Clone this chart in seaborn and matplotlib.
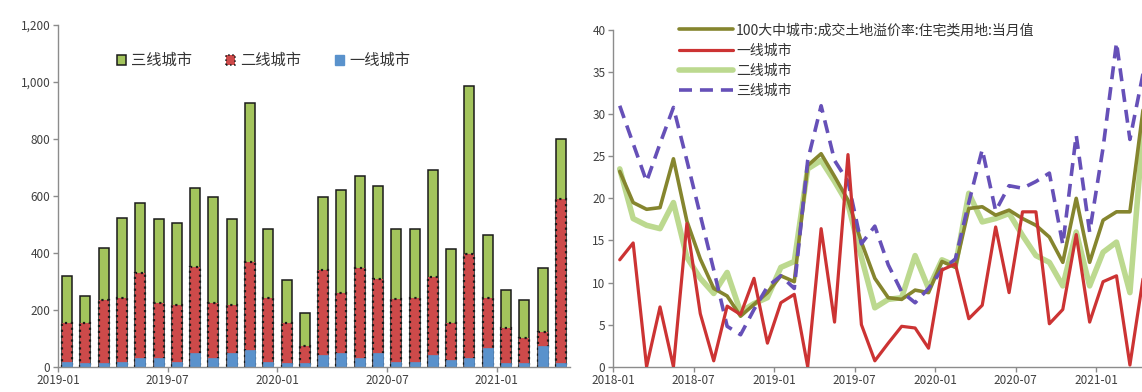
import numpy as np
import pandas as pd
import matplotlib
matplotlib.use("Agg")
import matplotlib.pyplot as plt
import seaborn as sns
from matplotlib.patches import Patch
from matplotlib.lines import Line2D
from matplotlib.ticker import FuncFormatter

# ---------------- data: left chart (stacked bars) ----------------
bar_months = ["2019-01", "2019-02", "2019-03", "2019-04", "2019-05", "2019-06", "2019-07",
              "2019-08", "2019-09", "2019-10", "2019-11", "2019-12", "2020-01", "2020-02",
              "2020-03", "2020-04", "2020-05", "2020-06", "2020-07", "2020-08", "2020-09",
              "2020-10", "2020-11", "2020-12", "2021-01", "2021-02", "2021-03", "2021-04"]
tier1_cnt = [18, 12, 12, 18, 29, 29, 18, 47, 29, 47, 59, 18, 12, 12,
             41, 47, 29, 47, 18, 18, 41, 24, 29, 65, 12, 12, 71, 12]
tier2_cnt = [135, 141, 223, 223, 300, 194, 200, 303, 194, 171, 308, 223, 141, 59,
             300, 212, 316, 261, 220, 223, 274, 131, 365, 176, 123, 88, 52, 578]
tier3_cnt = [167, 96, 183, 282, 245, 294, 288, 277, 374, 299, 558, 244, 150, 117,
             256, 360, 324, 326, 247, 244, 377, 259, 591, 220, 133, 135, 224, 210]
bar_tick_labels = ["2019-01", "2019-07", "2020-01", "2020-07", "2021-01"]
bar_legend = ["三线城市", "二线城市", "一线城市"]

# ---------------- data: right chart (lines) ----------------
line_months = [f"{y}-{m:02d}" for y in (2018, 2019, 2020, 2021) for m in range(1, 13)][:40]
avg_100 = [23.2, 19.5, 18.7, 18.9, 24.7, 17.3, 12.8, 9.3, 8.4, 6.0,
           7.4, 8.8, 10.8, 10.1, 23.9, 25.3, 22.6, 19.8, 14.8, 10.5,
           8.2, 8.0, 9.1, 8.8, 12.5, 11.8, 18.8, 19.0, 18.0, 18.6,
           17.6, 16.8, 15.4, 12.4, 20.0, 12.4, 17.4, 18.4, 18.4, 30.8]
tier1_rate = [12.7, 14.7, 0.0, 7.1, 0.0, 17.0, 6.3, 0.7, 7.2, 6.2,
              10.5, 2.8, 7.6, 8.6, 0.0, 16.4, 5.3, 25.2, 5.0, 0.7,
              2.8, 4.8, 4.6, 2.2, 11.5, 12.2, 5.7, 7.3, 16.6, 8.8,
              18.4, 18.4, 5.1, 6.8, 15.7, 5.3, 10.1, 10.8, 0.2, 10.7]
tier2_rate = [23.5, 17.6, 16.8, 16.4, 19.5, 13.0, 10.5, 8.7, 11.2, 6.5,
              7.5, 8.2, 11.8, 12.5, 23.5, 24.5, 22.0, 19.3, 13.0, 7.0,
              8.0, 8.2, 13.2, 9.3, 12.7, 12.0, 20.6, 17.2, 17.6, 18.2,
              15.6, 13.2, 12.4, 9.6, 16.0, 9.6, 13.6, 14.8, 8.8, 28.5]
tier3_rate = [31.0, 26.5, 22.0, 26.5, 30.8, 24.5, 18.0, 11.5, 4.8, 3.8,
              6.8, 9.5, 10.8, 9.3, 24.5, 31.0, 24.5, 22.0, 14.6, 16.7,
              12.1, 8.9, 7.6, 9.3, 11.5, 12.8, 19.5, 25.8, 18.5, 21.5,
              21.2, 22.0, 23.0, 14.5, 27.5, 16.0, 26.0, 38.5, 27.0, 35.0]
line_tick_labels = ["2018-01", "2018-07", "2019-01", "2019-07", "2020-01", "2020-07", "2021-01"]
line_legend = ["100大中城市:成交土地溢价率:住宅类用地:当月值", "一线城市", "二线城市", "三线城市"]

# ---------------- style ----------------
sns.set_theme(style="white")
plt.rcParams["font.family"] = ["Noto Sans CJK SC", "DejaVu Sans"]

C_GREEN = "#a3c45c"
C_RED = "#cd4a4a"
C_BLUE = "#5a92cc"
C_OLIVE = "#85852e"
C_LRED = "#cc3333"
C_LGREEN = "#bcd98f"
C_PURPLE = "#6650b8"
AX_GRAY = "#8c8c8c"
TXT_GRAY = "#404040"
DASH = [3.6, 2.2]

fig = plt.figure(figsize=(11.42, 3.92), dpi=100)
ax1 = fig.add_axes([0.0508, 0.0645, 0.4483, 0.872])
ax2 = fig.add_axes([0.5368, 0.0645, 0.4632, 0.859])

# ---------------- left: stacked bars ----------------
cum_red = [a + b for a, b in zip(tier1_cnt, tier2_cnt)]
cum_all = [a + b for a, b in zip(cum_red, tier3_cnt)]
df_bar = pd.DataFrame({"month": bar_months, "t1": tier1_cnt, "t12": cum_red, "t123": cum_all})

bw = 0.55
sns.barplot(data=df_bar, x="month", y="t123", color=C_GREEN, saturation=1, width=bw,
            edgecolor="#1a1a1a", linewidth=1.1, ax=ax1)
sns.barplot(data=df_bar, x="month", y="t12", color=C_RED, saturation=1, width=bw,
            edgecolor="#1a1a1a", linewidth=1.6, linestyle=":", ax=ax1)
sns.barplot(data=df_bar, x="month", y="t1", color=C_BLUE, saturation=1, width=bw,
            edgecolor=C_BLUE, linewidth=0.5, ax=ax1)

ax1.set_xlim(-0.5, len(bar_months) - 0.5)
ax1.set_ylim(0, 1200)
ax1.set_yticks(np.arange(0, 1201, 200))
ax1.yaxis.set_major_formatter(FuncFormatter(lambda v, p: f"{int(v):,}"))
ax1.set_xticks([bar_months.index(l) - 0.5 for l in bar_tick_labels])
ax1.set_xticklabels(bar_tick_labels)
ax1.set_xlabel("")
ax1.set_ylabel("")

leg1 = ax1.legend(handles=[Patch(facecolor=C_GREEN, edgecolor="#1a1a1a", linewidth=1.1),
                           Patch(facecolor=C_RED, edgecolor="#1a1a1a", linewidth=1.1, linestyle=":"),
                           Patch(facecolor=C_BLUE, edgecolor=C_BLUE)],
                  labels=bar_legend, loc="center left", bbox_to_anchor=(0.115, 0.895),
                  ncol=3, frameon=False, fontsize=11, handlelength=0.6, handleheight=0.6,
                  handletextpad=0.35, columnspacing=2.2, borderpad=0, borderaxespad=0)
for t in leg1.get_texts():
    t.set_color("#333333")

# ---------------- right: lines ----------------
x_line = np.arange(len(line_months)) + 0.5
df_line = pd.DataFrame({"x": x_line, "avg": avg_100, "t1": tier1_rate,
                        "t2": tier2_rate, "t3": tier3_rate})

sns.lineplot(data=df_line, x="x", y="t2", color=C_LGREEN, linewidth=4.0, ax=ax2, zorder=2)
sns.lineplot(data=df_line, x="x", y="avg", color=C_OLIVE, linewidth=2.6, ax=ax2, zorder=3)
sns.lineplot(data=df_line, x="x", y="t3", color=C_PURPLE, linewidth=2.6, ax=ax2, zorder=4)
sns.lineplot(data=df_line, x="x", y="t1", color=C_LRED, linewidth=2.3, ax=ax2, zorder=5)
ax2.lines[2].set_dashes(DASH)

ax2.set_xlim(0, 39.4)
ax2.set_ylim(0, 40)
ax2.set_yticks(np.arange(0, 41, 5))
ax2.set_xticks([line_months.index(l) for l in line_tick_labels])
ax2.set_xticklabels(line_tick_labels)
ax2.set_xlabel("")
ax2.set_ylabel("")

h = [Line2D([], [], color=C_OLIVE, lw=2.6),
     Line2D([], [], color=C_LRED, lw=2.3),
     Line2D([], [], color=C_LGREEN, lw=4.0),
     Line2D([], [], color=C_PURPLE, lw=2.6, dashes=DASH)]
leg2 = ax2.legend(handles=h, labels=line_legend, loc="upper left", bbox_to_anchor=(0.125, 1.02),
                  frameon=False, fontsize=10, handlelength=3.9, handletextpad=0.2,
                  labelspacing=0.45, borderpad=0, borderaxespad=0)
for t in leg2.get_texts():
    t.set_color("#333333")

# ---------------- axes cosmetics ----------------
for ax in (ax1, ax2):
    for s in ("top", "right"):
        ax.spines[s].set_visible(False)
    for s in ("left", "bottom"):
        ax.spines[s].set_color(AX_GRAY)
        ax.spines[s].set_linewidth(1.0)
    ax.tick_params(axis="both", which="major", direction="out", length=3.5, width=1.0,
                   color=AX_GRAY, labelsize=8.5, labelcolor=TXT_GRAY, pad=2,
                   bottom=True, left=True)
    ax.grid(False)
    ax.set_facecolor("white")

fig.savefig("out.png", dpi=100, facecolor="white")
